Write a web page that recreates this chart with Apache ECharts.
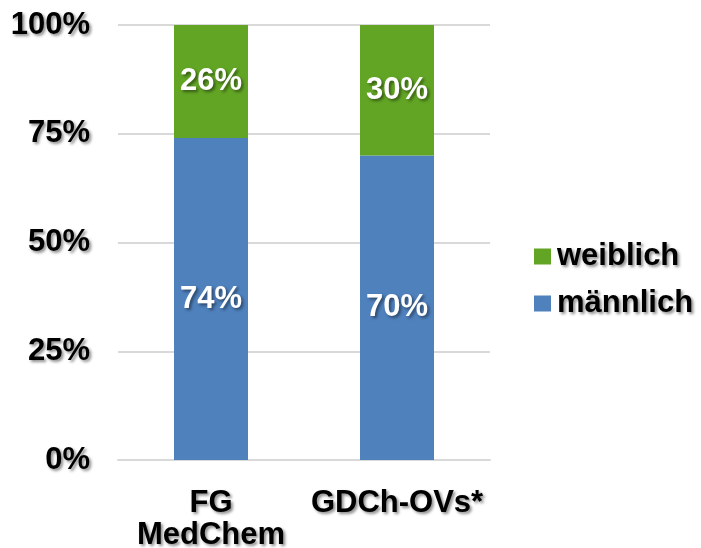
<!DOCTYPE html>
<html><head><meta charset="utf-8">
<script src="https://cdn.jsdelivr.net/npm/echarts@6/dist/echarts.min.js"></script>
<style>html,body{margin:0;padding:0;background:#fff}#c{width:701px;height:548px}</style>
</head><body><div id="c"></div>
<script>
var categories = ['FG\nMedChem', 'GDCh-OVs*'];
var maennlich = [74, 70];
var weiblich = [26, 30];
var yTicks = [0, 25, 50, 75, 100];

var shadow = {textShadowColor:'rgba(0,0,0,0.45)', textShadowBlur:3, textShadowOffsetX:2, textShadowOffsetY:2};
var FF = 'Liberation Sans, Arial';
var chart = echarts.init(document.getElementById('c'), null, {renderer:'canvas'});
chart.setOption({
  animation:false,
  grid:{left:118, right:211, top:25, bottom:88, containLabel:false, outerBoundsMode:'none'},
  legend:{
    orient:'vertical', left:529, top:236, itemGap:16, itemWidth:17, itemHeight:16, icon:'rect',
    data:['weiblich','männlich'],
    textStyle:Object.assign({fontFamily:FF, fontWeight:'bold', fontSize:31, lineHeight:31, color:'#000', padding:[0,0,0,1]}, shadow)
  },
  xAxis:{type:'category', data:categories,
    axisLine:{lineStyle:{color:'#d9d9d9', width:2}}, axisTick:{show:false},
    axisLabel:Object.assign({interval:0, hideOverlap:false, fontFamily:FF, fontWeight:'bold', fontSize:31, color:'#000', lineHeight:32, margin:27}, shadow)
  },
  yAxis:{type:'value', min:0, max:100, interval:25,
    axisLine:{show:false}, axisTick:{show:false},
    splitLine:{lineStyle:{color:'#d9d9d9', width:2}},
    axisLabel:Object.assign({fontFamily:FF, fontWeight:'bold', fontSize:31, color:'#000', margin:28,
      formatter:function(v){return yTicks.indexOf(v)>=0 ? v+'%' : '';}}, shadow)
  },
  series:[
    {name:'männlich', type:'bar', stack:'s', data:maennlich, barWidth:74, itemStyle:{color:'#4f81bd'},
     label:Object.assign({show:true, position:'inside', formatter:'{c}%', color:'#fff', fontFamily:FF, fontWeight:'bold', fontSize:31}, shadow)},
    {name:'weiblich', type:'bar', stack:'s', data:weiblich, barWidth:74, itemStyle:{color:'#62a524'},
     label:Object.assign({show:true, position:'inside', formatter:'{c}%', color:'#fff', fontFamily:FF, fontWeight:'bold', fontSize:31}, shadow)}
  ]
});
</script></body></html>
